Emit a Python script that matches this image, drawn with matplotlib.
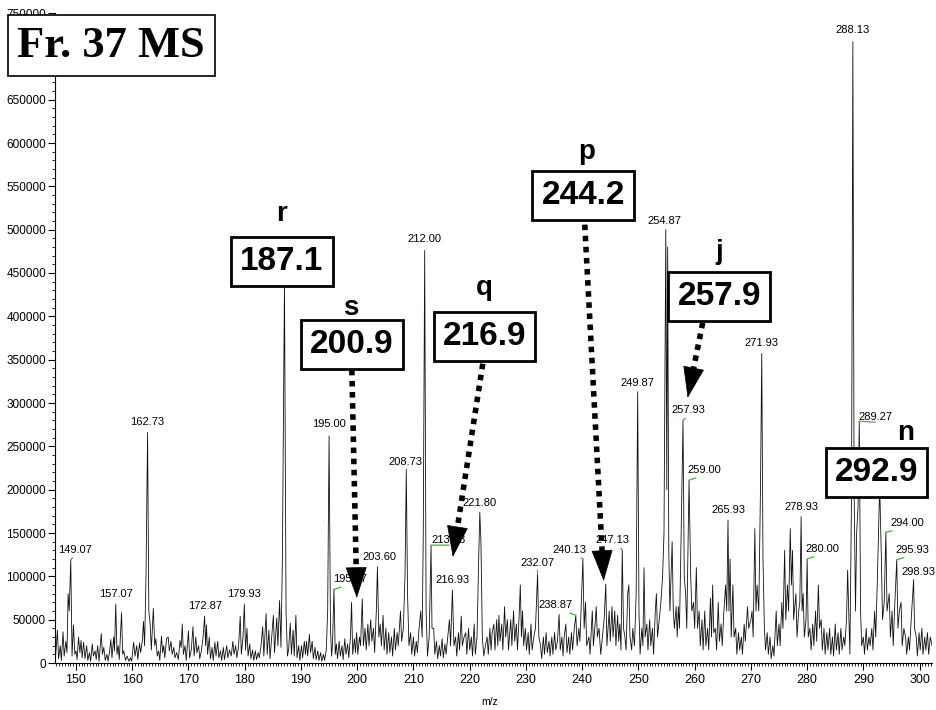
import matplotlib
matplotlib.use("Agg")
import matplotlib.pyplot as plt
import numpy as np
from matplotlib.ticker import MultipleLocator
from matplotlib.patches import Rectangle

plt.rcParams['font.family'] = ['Liberation Sans', 'DejaVu Sans']

# profile vertices (m/z, intensity in thousands)
seg_a = [(146.4,10),(146.7,38),(146.9,5),(147.2,20),(147.4,3),(147.7,36),(147.9,8),(148.2,25),(148.4,12),
         (148.6,80),(148.8,60),(149.07,119),(149.3,8),(149.55,44),(149.8,10),(150.0,14),(150.2,4),(150.45,30),
         (150.7,12),(150.9,26),(151.1,6),(151.35,24),(151.6,5),(151.9,20),(152.1,3),(152.4,12),(152.6,2),
         (152.9,22),(153.1,8),(153.4,14),(153.6,4),(153.85,20),(154.1,2),(154.5,34),(154.7,10),(154.95,18),
         (155.2,3),(155.5,10),(155.7,2),(155.95,12),(156.2,27),(156.4,6),(156.7,30),(156.85,14),(157.07,68),
         (157.3,10),(157.5,20),(157.7,4),(158.1,58),(158.3,10),(158.5,14),(158.8,3),(159.1,8),(159.4,2),
         (159.7,6),(159.9,2),(160.25,24),(160.5,8),(160.8,20),(161.0,4),(161.3,23),(161.5,12),(161.8,26),
         (162.0,48),(162.2,20),(162.45,100),(162.73,266),(162.95,60),(163.2,44),(163.4,15),(163.75,63),
         (164.0,20),(164.2,28),(164.45,8),(164.7,14),(164.9,3)]
seg_b = [(165.2,31),(165.4,12),(165.6,20),(165.8,6),(166.1,28),(166.4,30),(166.6,14),(166.9,25),(167.1,10),
         (167.4,18),(167.6,6),(167.9,12),(168.2,4),(168.5,26),(168.7,18),(168.9,45),(169.1,10),(169.4,20),
         (169.6,3),(170.0,37),(170.2,6),(170.5,15),(170.8,42),(171.0,8),(171.3,30),(171.5,12),(171.8,20),
         (172.0,5),(172.3,14),(172.6,30),(172.87,54),(173.05,20),(173.2,44),(173.4,10),(173.7,30),(173.9,5),
         (174.2,18),(174.4,3),(174.7,24),(174.9,8),(175.2,25),(175.4,6),(175.7,14),(175.9,3),(176.2,18),
         (176.4,4),(176.8,20),(177.0,6),(177.3,15),(177.6,8),(177.9,25),(178.1,10),(178.4,20),(178.6,6),
         (178.9,18),(179.2,54),(179.4,10),(179.7,30),(179.93,68),(180.15,15),(180.4,40),(180.6,8),(180.9,22),
         (181.1,5),(181.4,15),(181.6,3),(181.9,14),(182.1,4),(182.4,12),(182.6,6),(182.9,20),(183.2,42),
         (183.4,8),(183.8,57),(184.0,10),(184.3,38),(184.5,5),(184.8,30),(185.1,55),(185.3,12),(185.7,52),
         (185.9,20),(186.2,72),(186.45,18),(186.7,120),(187.07,440),(187.35,60),(187.6,8),(187.8,15)]
seg_c = [(188.1,46),(188.3,10),(188.6,38),(188.8,8),(189.1,55),(189.3,6),(189.6,20),(189.8,3),(190.1,20),
         (190.3,6),(190.6,25),(190.8,10),(191.0,25),(191.2,8),(191.5,33),(191.7,12),(192.0,25),(192.2,5),
         (192.5,18),(192.7,4),(193.0,14),(193.2,3),(193.5,12),(193.7,2),(194.0,10),(194.2,3),(194.5,15),
         (194.75,60),(195.0,262),(195.25,40),(195.45,8),(195.6,20),(195.87,85),(196.1,10),(196.3,22),
         (196.5,5),(196.8,25),(197.0,8),(197.3,20),(197.5,4),(197.8,28),(198.0,10),(198.3,22),(198.5,6),
         (198.8,30),(199.0,70),(199.2,10),(199.5,28),(199.7,12),(199.9,35),(200.1,10),(200.4,30),(200.6,20),
         (200.9,74),(201.1,20),(201.4,40),(201.6,15),(201.9,45),(202.1,20),(202.4,50),(202.6,25),(202.9,40),
         (203.1,12),(203.4,60),(203.6,111),(203.85,30),(204.1,45),(204.3,20),(204.6,55),(204.8,15),(205.1,40),
         (205.3,10),(205.6,35),(205.8,12),(206.1,30),(206.3,8),(206.6,40),(206.8,15),(207.1,35),(207.3,20),
         (207.7,60),(207.9,25),(208.2,40),(208.5,100),(208.73,223),(208.95,80),(209.2,20),(209.5,35),
         (209.7,10),(210.0,30),(210.2,8),(210.5,25),(210.7,12),(211.0,40),(211.3,60),(211.55,30),
         (211.75,150),(212.0,476),(212.25,60),(212.5,8)]
seg_d = [(212.8,30),(213.13,136),(213.3,40),(213.6,40),(213.8,10),(214.1,25),(214.3,5),(214.6,20),(214.8,8),
         (215.1,28),(215.3,6),(215.6,22),(215.8,10),(216.1,30),(216.4,50),(216.6,20),(216.93,84),(217.2,20),
         (217.5,30),(217.7,8),(218.0,35),(218.2,15),(218.5,54),(218.7,20),(219.0,30),(219.3,35),(219.5,10),
         (219.8,40),(220.0,15),(220.3,30),(220.5,8),(220.8,45),(221.0,10),(221.3,30),(221.6,120),(221.8,174),
         (222.0,140),(222.25,30),(222.5,8),(222.8,20),(223.1,30),(223.3,10),(223.6,40),(223.8,15),(224.0,35),
         (224.3,45),(224.5,15),(224.8,50),(225.0,20),(225.2,55),(225.4,25),(225.7,45),(225.9,15),(226.2,65),
         (226.4,30),(226.7,50),(226.9,15),(227.3,50),(227.5,20),(227.8,60),(228.0,25),(228.3,45),(228.5,15),
         (228.8,55),(229.0,90),(229.2,30),(229.4,60),(229.6,20),(229.9,40),(230.1,15),(230.4,35),(230.6,10),
         (230.9,45),(231.1,15),(231.4,30),(231.7,40),(232.07,103),(232.3,30),(232.6,20),(232.8,5),(233.1,30),
         (233.3,10),(233.6,35),(233.8,12),(234.1,25),(234.3,8),(234.6,30),(234.8,10),(235.1,35),(235.3,15),
         (235.6,25),(235.9,56),(236.1,15),(236.4,30),(236.6,8),(236.8,30),(237.1,45),(237.3,12),(237.6,30),
         (237.8,10),(238.1,35),(238.3,15),(238.6,40),(238.87,55),(239.1,20),(239.4,40),(239.6,25),(239.8,60),
         (240.13,120),(240.35,40),(240.6,70),(240.8,20),(241.2,30),(241.4,10),(241.8,60),(242.0,20),(242.3,45),
         (242.5,65),(242.7,30),(243.0,40),(243.3,10),(243.6,30),(243.9,50),(244.2,91),(244.4,20),(244.8,60),
         (245.0,25)]
seg_e = [(245.3,65),(245.5,30),(245.8,60),(246.0,20),(246.3,55),(246.5,25),(246.7,45),(246.9,15),(247.13,130),
         (247.35,40),(247.6,30),(247.8,15),(248.1,80),(248.3,90),(248.5,30),(248.8,15),(249.0,40),(249.3,20),
         (249.6,80),(249.87,313),(250.1,60),(250.3,10),(250.6,40),(250.8,20),(251.0,110),(251.2,30),(251.5,45),
         (251.7,15),(252.0,50),(252.2,20),(252.5,40),(252.7,10),(253.0,60),(253.2,80),(253.4,30),(253.7,50),
         (254.0,70),(254.3,100),(254.55,150),(254.87,500),(255.05,200),(255.2,480),(255.4,130),(255.6,60),
         (255.8,100),(256.0,140),(256.2,60),(256.4,40),(256.7,65),(256.9,30),(257.1,65),(257.3,40),(257.6,150),
         (257.93,280),(258.15,100),(258.4,80),(258.6,40),(259.0,211),(259.3,100),(259.5,60),(259.8,70),
         (260.0,40),(260.3,110),(260.5,40),(260.8,60),(261.0,20),(261.3,50),(261.5,15),(261.8,60),(262.0,20),
         (262.3,40),(262.5,15),(262.8,75),(263.0,30),(263.2,90),(263.4,35),(263.7,40),(263.9,15),(264.2,70),
         (264.4,25),(264.7,45),(264.9,20),(265.2,60),(265.5,90),(265.7,60),(265.93,165),(266.1,60),(266.3,120),
         (266.5,30),(266.8,90),(267.0,30),(267.3,40),(267.5,10),(267.8,35),(268.0,15),(268.3,30),(268.5,10),
         (268.8,45),(269.0,25),(269.4,65),(269.6,40),(270.0,50),(270.2,60),(270.4,30),(270.7,155),(270.9,60),
         (271.1,90),(271.4,60),(271.7,200),(271.93,357),(272.15,120),(272.4,40),(272.6,15)]
seg_f = [(272.9,35),(273.1,10),(273.4,30),(273.6,5),(273.9,20),(274.1,8),(274.5,60),(274.7,20),(275.0,45),
         (275.2,20),(275.5,70),(275.7,40),(276.0,130),(276.2,50),(276.5,90),(276.7,60),(277.0,155),(277.2,90),
         (277.4,130),(277.6,50),(278.0,80),(278.2,30),(278.5,60),(278.7,70),(278.93,169),(279.1,60),(279.3,80),
         (279.5,30),(279.8,50),(280.0,120),(280.2,30),(280.5,40),(280.7,15),(281.0,45),(281.2,20),(281.5,60),
         (281.7,25),(282.0,90),(282.2,40),(282.5,50),(282.7,15),(283.0,40),(283.2,10),(283.5,35),(283.7,15),
         (284.0,40),(284.2,10),(284.5,30),(284.7,8),(285.0,45),(285.2,15),(285.5,35),(285.7,10),(286.0,40),
         (286.2,15),(286.5,30),(286.7,20),(287.0,50),(287.2,107),(287.4,60),(287.6,10),(287.9,200),(288.13,717),
         (288.35,200),(288.6,60),(288.8,150),(289.05,180),(289.27,279),(289.5,60),(289.7,20),(290.0,30),
         (290.2,10),(290.5,40),(290.7,15),(291.0,30),(291.2,20),(291.5,40),(291.7,15),(292.0,60),(292.2,30),
         (292.5,100),(292.9,205),(293.2,120),(293.4,50),(293.7,70),(294.0,151),(294.2,60),(294.6,80),(294.8,30),
         (295.1,60),(295.3,20),(295.6,70),(295.93,119),(296.15,40),(296.4,60),(296.7,70),(296.9,20),(297.2,40),
         (297.5,30),(297.7,10),(298.0,30),(298.2,15),(298.5,50),(298.93,96),(299.1,40),(299.4,30),(299.6,8),
         (299.9,35),(300.1,15),(300.4,40),(300.6,10),(300.9,30),(301.1,15),(301.4,35),(301.6,10),(301.9,30),
         (302.2,20)]

# labelled peaks
peak_mz = [149.07, 157.07, 162.73, 172.87, 179.93, 195.00, 195.87, 203.60, 208.73, 212.00, 213.13, 216.93,
           221.80, 232.07, 238.87, 240.13, 247.13, 249.87, 254.87, 257.93, 259.00, 265.93, 271.93, 278.93,
           280.00, 288.13, 289.27, 294.00, 295.93, 298.93]
peak_txt = ["149.07", "157.07", "162.73", "172.87", "179.93", "195.00", "195.87", "203.60", "208.73", "212.00",
            "213.13", "216.93", "221.80", "232.07", "238.87", "240.13", "247.13", "249.87", "254.87", "257.93",
            "259.00", "265.93", "271.93", "278.93", "280.00", "288.13", "289.27", "294.00", "295.93", "298.93"]
# label offset in pixels and whether a green leader is drawn
peak_off = [(4,10,1),(0,10,0),(0,10,0),(0,10,0),(0,10,0),(0,12,0),(16,10,1),(2,10,0),(-1,8,1),(0,11,0),
            (18,5,1),(0,10,0),(0,9,0),(0,11,1),(-20,10,1),(-13,9,1),(-10,10,1),(0,9,0),(-1,9,0),(5,10,1),
            (15,10,1),(0,10,0),(0,11,0),(0,10,0),(15,10,1),(0,12,0),(16,4,1),(21,9,1),(16,10,1),(5,8,1)]

# boxed assignments: value, letter, box centre, letter baseline, arrow start/tip
box_txt = ["187.1", "200.9", "216.9", "244.2", "257.9", "292.9"]
box_xy = [(186.61, 463000), (199.05, 368000), (222.60, 377000), (240.19, 540000), (264.36, 422600), (292.35, 219400)]
letters = ["r", "s", "q", "p", "j", "n"]
letter_xy = [(186.52, 510000), (198.87, 402000), (222.69, 425000), (240.82, 582000), (264.45, 466500), (297.5, 257500)]
arrows = [((199.05, 338300), (199.94, 75100)),
          ((222.33, 345300), (217.0, 122400)),
          ((240.46, 505800), (243.83, 94700)),
          ((261.43, 392600), (258.76, 306000))]

profile = seg_a + seg_b + seg_c + seg_d + seg_e + seg_f
mz = np.array([p[0] for p in profile])
inten = np.array([p[1] for p in profile]) * 1000

fig = plt.figure(figsize=(9.36, 7.1), dpi=100)
ax = fig.add_axes([55/936, 47/710, 877/936, 650/710])
ax.plot(mz, inten, color='#111111', lw=0.6, zorder=2)
ax.set_xlim(146.27, 302.2)
ax.set_ylim(0, 750000)
ax.spines['top'].set_visible(False)
ax.spines['right'].set_visible(False)
ax.set_xticks(np.arange(150, 301, 10))
ax.xaxis.set_minor_locator(MultipleLocator(0.5))
ax.set_yticks(np.arange(0, 750001, 50000))
ax.yaxis.set_minor_locator(MultipleLocator(10000))
ax.tick_params(axis='both', which='major', labelsize=8.5, length=5, width=0.8, pad=1.5)
ax.tick_params(axis='x', which='major', labelsize=9, length=5, pad=3)
ax.tick_params(axis='both', which='minor', length=2.5, width=0.6)
ax.set_xlabel('m/z', fontsize=7.5)
ax.xaxis.set_label_coords(0.496, -0.052)

for m, t, (dx, dy, g) in zip(peak_mz, peak_txt, peak_off):
    h = inten[np.argmin(np.abs(mz - m))]
    props = None
    if g:
        props = dict(arrowstyle='-', color='#3cb93c', lw=0.9, shrinkA=0, shrinkB=0,
                     relpos=(0.5 if dx >= 0 else 0.7, 0))
    ax.annotate(t, (m, h), xytext=(dx, dy), textcoords='offset pixels', ha='center', va='center',
                fontsize=8, zorder=4, arrowprops=props)

for t, (bx, by) in zip(box_txt, box_xy):
    ax.text(bx, by, t, ha='center', va='center', fontsize=24, fontweight='bold', zorder=6,
            bbox=dict(boxstyle='square,pad=0.27', fc='white', ec='black', lw=2))
for l, (lx, ly) in zip(letters, letter_xy):
    ax.text(lx, ly, l, ha='center', va='baseline', fontsize=20, fontweight='bold', zorder=6)

# dotted shaft + solid head
head_len = 30
for start, tip in arrows:
    p0 = ax.transData.transform(start)
    p1 = ax.transData.transform(tip)
    u = (p1 - p0) / np.hypot(*(p1 - p0))
    base = ax.transData.inverted().transform(p1 - u * head_len)
    ax.plot([start[0], base[0]], [start[1], base[1]], color='black', lw=4,
            linestyle=(0, (1, 1)), dash_capstyle='butt', zorder=7)
    ax.annotate('', xy=tip, xytext=base, zorder=7,
                arrowprops=dict(arrowstyle='-|>,head_length=1.05,head_width=0.36', mutation_scale=20,
                                lw=0.5, color='black', shrinkA=0, shrinkB=0))

fig.add_artist(Rectangle((8/936, 1 - 76/710), 207/936, 61/710, transform=fig.transFigure,
                         fc='white', ec='black', lw=1.2, zorder=9))
fig.text(111/936, 1 - 46/710, 'Fr. 37 MS', ha='center', va='center', fontsize=32, fontweight='bold',
         family='Liberation Serif', zorder=10)

fig.savefig('out.png', dpi=100)
